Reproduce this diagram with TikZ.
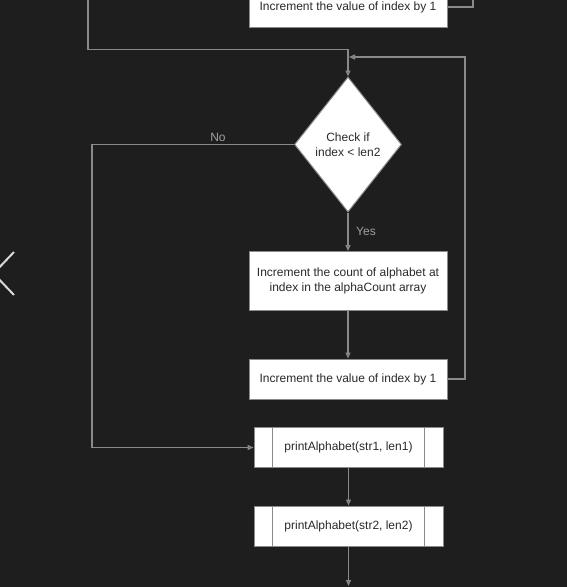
\documentclass[tikz,border=0pt]{standalone}
\usepackage{fontspec}
\setmainfont{Liberation Sans}
\usepackage{xcolor}
\usetikzlibrary{arrows.meta, shapes.geometric}

\definecolor{bgdark}{HTML}{1E1E1E}
\definecolor{linegray}{HTML}{8A8A8A}
\definecolor{textdark}{HTML}{2A2A2A}
\definecolor{labelgray}{HTML}{A0A0A0}

\begin{document}
\begin{tikzpicture}[x=1pt,y=-1pt,>={Triangle[open,length=6pt,width=5pt]},
  flow/.style={draw=linegray, line width=1.3pt},
  procbox/.style={draw=linegray, fill=white, line width=1pt, text=textdark,
    minimum width=198pt, inner sep=2pt, align=center,
    font=\fontsize{12}{15}\selectfont},
  predef/.style={procbox, minimum width=189pt, minimum height=40pt,
    path picture={
      \draw[linegray, line width=1pt]
        ([xshift=18.5pt]path picture bounding box.north west) --
        ([xshift=18.5pt]path picture bounding box.south west);
      \draw[linegray, line width=1pt]
        ([xshift=-18.5pt]path picture bounding box.north east) --
        ([xshift=-18.5pt]path picture bounding box.south east);
    }},
  decide/.style={diamond, draw=linegray, fill=white, line width=1pt,
    text=textdark, inner sep=0pt, aspect=0.79,
    minimum width=107pt, minimum height=135pt, align=center,
    font=\fontsize{12}{15.5}\selectfont},
  edgelabel/.style={text=labelgray, font=\fontsize{12}{12}\selectfont}]

% ------------------------------------------------------------
% Background and frame
% ------------------------------------------------------------
\fill[bgdark] (0,0) rectangle (567,587);
\useasboundingbox (0,0) rectangle (567,587);
\clip (0,0) rectangle (567,587);

% Slider arrow at the left edge
\draw[black!15, line width=2pt] (14,252) -- (-6.5,273.5) -- (14,295);

% ------------------------------------------------------------
% Steps
% ------------------------------------------------------------
\node[procbox, minimum height=40pt] (incprev) at (348,7)
{Increment the value of index by 1};

\node[decide] (check) at (348,144.5)
{Check if\\index < len2};

\node[procbox, minimum height=59pt] (countup) at (348,281)
{Increment the count of alphabet at\\index in the alphaCount array};

\node[procbox, minimum height=40pt] (incidx) at (348,379)
{Increment the value of index by 1};

\node[predef] (printone) at (348.5,447.5)
{printAlphabet(str1, len1)};

\node[predef] (printtwo) at (348.5,526)
{printAlphabet(str2, len2)};

% Free ends of the connectors
\coordinate (topleft) at (88,-5);
\coordinate (topright) at (473,-5);
\coordinate (entry) at (348,49.5);
\coordinate (loopcorner) at (465,57);
\coordinate (loopend) at (349,57);
\coordinate (noturn) at (92,144.5);
\coordinate (bottom) at (348.5,586);

% ------------------------------------------------------------
% Connectors
% ------------------------------------------------------------
\draw[flow] (incprev.east) -| (topright);
\draw[flow, ->] (topleft) |- (entry) -- (check.north);
\draw[flow, ->] (incidx.east) -| (loopcorner) -- (loopend);

\draw[flow, ->] (check.west) -- (noturn) |- (printone.west);
\node[edgelabel] (nolabel) at (218,137) {No};

\draw[flow, ->] (check.south) -- (countup.north);
\node[edgelabel] (yeslabel) at (366,231) {Yes};

\draw[flow, ->] (countup.south) -- (incidx.north);
\draw[flow, ->] (printone.south) -- (printtwo.north);
\draw[flow, ->] (printtwo.south) -- (bottom);

\end{tikzpicture}
\end{document}
